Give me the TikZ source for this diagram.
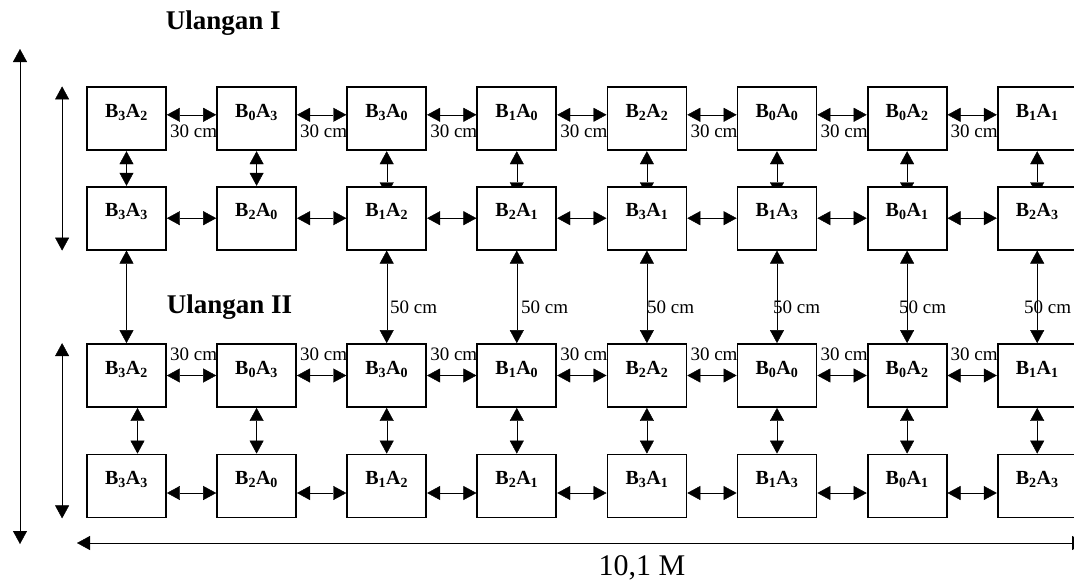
\documentclass[tikz,border=0pt]{standalone}
\usepackage{fontspec}
\setmainfont{Liberation Serif}
\usetikzlibrary{arrows.meta,positioning,backgrounds}

\newcommand{\perl}[2]{B\textsubscript{#1}A\textsubscript{#2}}

\begin{document}
\begin{tikzpicture} [x=1pt,y=-1pt,node distance=130.1pt,line width=1.6pt,
  >={Triangle[length=13pt,width=14pt]},
  kotak/.style={draw,fill=white,line width=1.8pt,minimum width=79pt,minimum height=63pt,
    inner sep=0pt,text height=14pt,text depth=17pt,font=\fontsize{20pt}{24pt}\selectfont\bfseries},
  jarak/.style={anchor=base west,inner sep=0pt,font=\fontsize{19pt}{22pt}\selectfont},
  judul/.style={anchor=base west,inner sep=0pt,font=\fontsize{27pt}{32pt}\selectfont\bfseries}]

  \useasboundingbox (0,0) rectangle (1074,581);

  % Ulangan I
  \node[judul] (u1) at (165,29) {Ulangan I};
  \node[kotak] (a1) at (126.5,118.8) {\perl{3}{2}};
  \node[kotak] (a2) [right of=a1] {\perl{0}{3}};
  \node[kotak] (a3) [right of=a2] {\perl{3}{0}};
  \node[kotak] (a4) [right of=a3] {\perl{1}{0}};
  \node[kotak] (a5) [right of=a4] {\perl{2}{2}};
  \node[kotak] (a6) [right of=a5] {\perl{0}{0}};
  \node[kotak] (a7) [right of=a6] {\perl{0}{2}};
  \node[kotak] (a8) [right of=a7] {\perl{1}{1}};

  \node[kotak] (b1) [below of=a1, node distance=99.4pt] {\perl{3}{3}};
  \node[kotak] (b2) [right of=b1] {\perl{2}{0}};
  \node[kotak] (b3) [right of=b2] {\perl{1}{2}};
  \node[kotak] (b4) [right of=b3] {\perl{2}{1}};
  \node[kotak] (b5) [right of=b4] {\perl{3}{1}};
  \node[kotak] (b6) [right of=b5] {\perl{1}{3}};
  \node[kotak] (b7) [right of=b6] {\perl{0}{1}};
  \node[kotak] (b8) [right of=b7] {\perl{2}{3}};

  % Ulangan II
  \node[judul] (u2) at (166,313) {Ulangan II};
  \node[kotak] (c1) [below of=b1, node distance=157.3pt] {\perl{3}{2}};
  \node[kotak] (c2) [right of=c1] {\perl{0}{3}};
  \node[kotak] (c3) [right of=c2] {\perl{3}{0}};
  \node[kotak] (c4) [right of=c3] {\perl{1}{0}};
  \node[kotak] (c5) [right of=c4] {\perl{2}{2}};
  \node[kotak] (c6) [right of=c5] {\perl{0}{0}};
  \node[kotak] (c7) [right of=c6] {\perl{0}{2}};
  \node[kotak] (c8) [right of=c7] {\perl{1}{1}};

  \node[kotak] (d1) [below of=c1, node distance=110.5pt] {\perl{3}{3}};
  \node[kotak] (d2) [right of=d1] {\perl{2}{0}};
  \node[kotak] (d3) [right of=d2] {\perl{1}{2}};
  \node[kotak] (d4) [right of=d3] {\perl{2}{1}};
  \node[kotak] (d5) [right of=d4] {\perl{3}{1}};
  \node[kotak] (d6) [right of=d5] {\perl{1}{3}};
  \node[kotak] (d7) [right of=d6] {\perl{0}{1}};
  \node[kotak] (d8) [right of=d7] {\perl{2}{3}};

  % 30 cm labels and hidden arrow heads, behind the boxes
  \begin{pgfonlayer}{background}
    \node[jarak] (ja1) at ([shift={(3pt,-51pt)}]a1.north east) {30 cm};
    \node[jarak] (ja2) at ([shift={(3pt,-51pt)}]a2.north east) {30 cm};
    \node[jarak] (ja3) at ([shift={(3pt,-51pt)}]a3.north east) {30 cm};
    \node[jarak] (ja4) at ([shift={(3pt,-51pt)}]a4.north east) {30 cm};
    \node[jarak] (ja5) at ([shift={(3pt,-51pt)}]a5.north east) {30 cm};
    \node[jarak] (ja6) at ([shift={(3pt,-51pt)}]a6.north east) {30 cm};
    \node[jarak] (ja7) at ([shift={(3pt,-51pt)}]a7.north east) {30 cm};
    \node[jarak] (jc1) at ([shift={(3pt,-17.7pt)}]c1.north east) {30 cm};
    \node[jarak] (jc2) at ([shift={(3pt,-17.7pt)}]c2.north east) {30 cm};
    \node[jarak] (jc3) at ([shift={(3pt,-17.7pt)}]c3.north east) {30 cm};
    \node[jarak] (jc4) at ([shift={(3pt,-17.7pt)}]c4.north east) {30 cm};
    \node[jarak] (jc5) at ([shift={(3pt,-17.7pt)}]c5.north east) {30 cm};
    \node[jarak] (jc6) at ([shift={(3pt,-17.7pt)}]c6.north east) {30 cm};
    \node[jarak] (jc7) at ([shift={(3pt,-17.7pt)}]c7.north east) {30 cm};

    \path[<->]
      (a3.south) edge ([yshift=-9.5pt]b3.north)
      (a4.south) edge ([yshift=-9.5pt]b4.north)
      (a5.south) edge ([yshift=-9.5pt]b5.north)
      (a6.south) edge ([yshift=-9.5pt]b6.north)
      (a7.south) edge ([yshift=-9.5pt]b7.north)
      (a8.south) edge ([yshift=-9.5pt]b8.north);
  \end{pgfonlayer}

  % 50 cm labels
  \node[jarak] (l3) at (390,313) {50 cm};
  \node[jarak] (l4) at (521,313) {50 cm};
  \node[jarak] (l5) at (647,313) {50 cm};
  \node[jarak] (l6) at (773,313) {50 cm};
  \node[jarak] (l7) at (899,313) {50 cm};
  \node[jarak] (l8) at (1024,313) {50 cm};

  % horizontal arrows
  \path[<->]
    ([yshift=4pt]a1.east) edge ([yshift=4pt]a2.west)
    ([yshift=4pt]a2.east) edge ([yshift=4pt]a3.west)
    ([yshift=4pt]a3.east) edge ([yshift=4pt]a4.west)
    ([yshift=4pt]a4.east) edge ([yshift=4pt]a5.west)
    ([yshift=4pt]a5.east) edge ([yshift=4pt]a6.west)
    ([yshift=4pt]a6.east) edge ([yshift=4pt]a7.west)
    ([yshift=4pt]a7.east) edge ([yshift=4pt]a8.west)
    (b1) edge (b2) (b2) edge (b3) (b3) edge (b4) (b4) edge (b5)
    (b5) edge (b6) (b6) edge (b7) (b7) edge (b8)
    (c1) edge (c2) (c2) edge (c3) (c3) edge (c4) (c4) edge (c5)
    (c5) edge (c6) (c6) edge (c7) (c7) edge (c8)
    ([yshift=-7pt]d1.east) edge ([yshift=-7pt]d2.west)
    ([yshift=-7pt]d2.east) edge ([yshift=-7pt]d3.west)
    ([yshift=-7pt]d3.east) edge ([yshift=-7pt]d4.west)
    ([yshift=-7pt]d4.east) edge ([yshift=-7pt]d5.west)
    ([yshift=-7pt]d5.east) edge ([yshift=-7pt]d6.west)
    ([yshift=-7pt]d6.east) edge ([yshift=-7pt]d7.west)
    ([yshift=-7pt]d7.east) edge ([yshift=-7pt]d8.west);

  % vertical arrows
  \path[<->]
    (a1) edge (b1) (a2) edge (b2)
    (b1) edge (c1) (b3) edge (c3) (b4) edge (c4) (b5) edge (c5)
    (b6) edge (c6) (b7) edge (c7) (b8) edge (c8)
    ([xshift=11pt]c1.south) edge ([xshift=11pt]d1.north)
    (c2) edge (d2) (c3) edge (d3) (c4) edge (d4) (c5) edge (d5)
    (c6) edge (d6) (c7) edge (d7) (c8) edge (d8);

  % overall dimensions
  \coordinate (i1) at ([xshift=-24pt]a1.north west);
  \coordinate (i2) at ([xshift=-24pt]b1.south west);
  \coordinate (i3) at ([xshift=-24pt]c1.north west);
  \coordinate (i4) at ([xshift=-24pt]d1.south west);
  \coordinate (atas) at (20,49);
  \coordinate (bawah) at (20,544);
  \coordinate (kiri) at (77,543);
  \coordinate (kanan) at (1085,543);
  \path[<->]
    (i1) edge (i2)
    (i3) edge (i4)
    (atas) edge (bawah)
    (kiri) edge (kanan);
  \node[anchor=base,inner sep=0pt,font=\fontsize{30pt}{34pt}\selectfont] (lebar) at (642,575) {10,1 M};

\end{tikzpicture}
\end{document}
